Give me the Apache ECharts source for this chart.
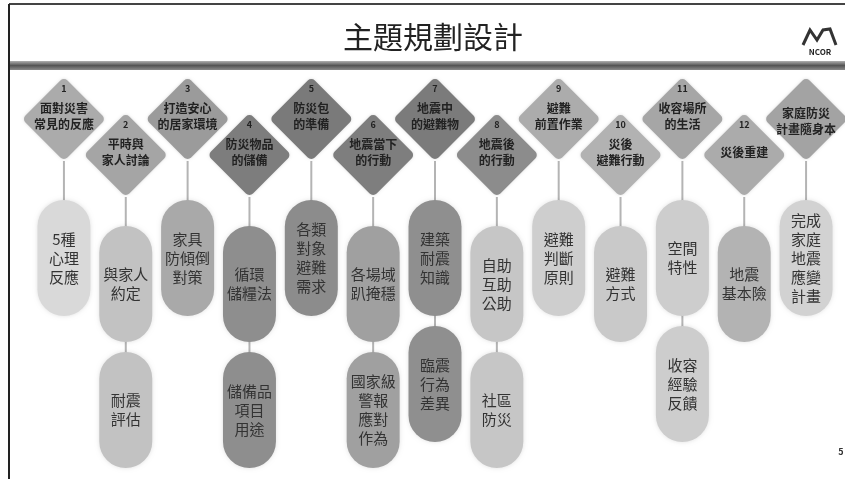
<!DOCTYPE html>
<html><head><meta charset="utf-8">
<script src="https://cdn.jsdelivr.net/npm/echarts@6/dist/echarts.min.js"></script>
<style>html,body{margin:0;padding:0;background:#fff}#c{width:845px;height:479px}</style>
</head><body><div id="c"></div>
<script>
// ---- data ----
const numbers = ['1','2','3','4','5','6','7','8','9','10','11','12',''];
const topics = ['面對災害\n常見的反應','平時與\n家人討論','打造安心\n的居家環境','防災物品\n的儲備','防災包\n的準備','地震當下\n的行動','地震中\n的避難物','地震後\n的行動','避難\n前置作業','災後\n避難行動','收容場所\n的生活','災後重建','家庭防災\n計畫隨身本'];
const firstItems = ['5種\n心理\n反應','與家人\n約定','家具\n防傾倒\n對策','循環\n儲糧法','各類\n對象\n避難\n需求','各場域\n趴掩穩','建築\n耐震\n知識','自助\n互助\n公助','避難\n判斷\n原則','避難\n方式','空間\n特性','地震\n基本險','完成\n家庭\n地震\n應變\n計畫'];
const secondItems = ['','耐震\n評估','','儲備品\n項目\n用途','','國家級\n警報\n應對\n作為','臨震\n行為\n差異','社區\n防災','','','收容\n經驗\n反饋','',''];

// ---- styles ----
const diamondColors = ['#ababab','#a5a5a5','#9b9b9b','#7d7d7d','#7a7a7a','#7e7e7e','#7b7b7b','#8c8c8c','#acacac','#b2b2b2','#a6a6a6','#ababab','#a3a3a3'];
const pillColors = ['#d9d9d9','#c2c2c2','#a9a9a9','#8e8e8e','#8c8c8c','#a0a0a0','#8f8f8f','#c6c6c6','#cecece','#c9c9c9','#cdcdcd','#b3b3b3','#d2d2d2'];
const FONT = '"Noto Sans CJK TC","Noto Sans CJK SC",sans-serif';
const DIAMOND_Y = [119, 155];
const PILL_TOP = [200, 226];
const PILL_H = 116, PILL_W = 53, PILL_GAP = 10, HALF_D = 42;

const chart = echarts.init(document.getElementById('c'));

const colData = topics.map((t, i) => [i, 0]);
const pillData = [];
firstItems.forEach((t, i) => { pillData.push([i, 0]); if (secondItems[i]) pillData.push([i, 1]); });

function stems(params, api) {
  const i = api.value(0), s = i % 2;
  const x = api.coord([i, 0])[0];
  const y0 = api.coord([i, DIAMOND_Y[s] + HALF_D])[1];
  let y1 = api.coord([i, PILL_TOP[s] + 4])[1];
  if (secondItems[i]) y1 = api.coord([i, PILL_TOP[s] + PILL_H + PILL_GAP + 4])[1];
  return { type: 'line', shape: { x1: x, y1: y0, x2: x, y2: y1 }, style: { stroke: '#b4b4b4', lineWidth: 2 } };
}

function pills(params, api) {
  const i = api.value(0), slot = api.value(1), s = i % 2;
  const x = api.coord([i, 0])[0];
  const top = api.coord([i, PILL_TOP[s] + slot * (PILL_H + PILL_GAP)])[1];
  const text = slot ? secondItems[i] : firstItems[i];
  return { type: 'group', children: [
    { type: 'rect', shape: { x: x - PILL_W / 2, y: top, width: PILL_W, height: PILL_H, r: PILL_W / 2 },
      style: { fill: pillColors[i], shadowBlur: 4, shadowColor: 'rgba(0,0,0,0.12)' } },
    { type: 'text', x: x, y: top + PILL_H / 2,
      style: { text: text, fill: '#333', font: '15px ' + FONT, align: 'center', verticalAlign: 'middle', lineHeight: 19 } }
  ]};
}

function diamonds(params, api) {
  const i = api.value(0), s = i % 2;
  const p = api.coord([i, DIAMOND_Y[s]]);
  const side = HALF_D * Math.SQRT2;
  const children = [
    { type: 'rect', x: p[0], y: p[1], rotation: Math.PI / 4,
      shape: { x: -side / 2, y: -side / 2, width: side, height: side, r: 5 },
      style: { fill: diamondColors[i], shadowBlur: 3, shadowColor: 'rgba(0,0,0,0.15)' } }
  ];
  if (numbers[i]) {
    children.push({ type: 'text', x: p[0], y: p[1] - 30,
      style: { text: numbers[i], fill: '#222', font: 'bold 9px ' + FONT, align: 'center', verticalAlign: 'middle' } });
  }
  children.push({ type: 'text', x: p[0], y: p[1] + (numbers[i] ? -3 : 2),
    style: { text: topics[i], fill: '#222', font: 'bold 12px ' + FONT, align: 'center', verticalAlign: 'middle', lineHeight: 16 } });
  return { type: 'group', children: children };
}

chart.setOption({
  animation: false,
  grid: { left: 33, right: 8, top: 0, bottom: 0 },
  xAxis: { type: 'category', data: topics, show: false },
  yAxis: { type: 'value', min: 0, max: 479, inverse: true, show: false },
  series: [
    { type: 'custom', z: 1, data: colData, renderItem: stems },
    { type: 'custom', z: 2, data: pillData, renderItem: pills },
    { type: 'custom', z: 3, data: colData, renderItem: diamonds }
  ],
  graphic: [
    { type: 'line', shape: { x1: 9, y1: 4, x2: 845, y2: 4 }, style: { stroke: '#444', lineWidth: 2 } },
    { type: 'line', shape: { x1: 9, y1: 4, x2: 9, y2: 479 }, style: { stroke: '#222', lineWidth: 2 } },
    { type: 'rect', shape: { x: 10, y: 61, width: 835, height: 9 },
      style: { fill: new echarts.graphic.LinearGradient(0, 0, 0, 1, [
        { offset: 0, color: '#b0b0b0' }, { offset: 0.5, color: '#555' }, { offset: 1, color: '#8a8a8a' }]) } },
    { type: 'text', x: 433, y: 37, style: { text: '主題規劃設計', fill: '#222', font: '30px ' + FONT, align: 'center', verticalAlign: 'middle' } },
    { type: 'polyline', shape: { points: [[803, 45], [810, 30], [817, 40], [823, 30], [830, 29], [836, 45]] },
      style: { stroke: '#333', lineWidth: 3, fill: null } },
    { type: 'text', x: 820, y: 52, style: { text: 'NCOR', fill: '#222', font: 'bold 8px ' + FONT, align: 'center', verticalAlign: 'middle' } },
    { type: 'text', x: 841, y: 452, style: { text: '5', fill: '#333', font: 'bold 9px ' + FONT, align: 'center', verticalAlign: 'middle' } }
  ]
});
</script></body></html>
